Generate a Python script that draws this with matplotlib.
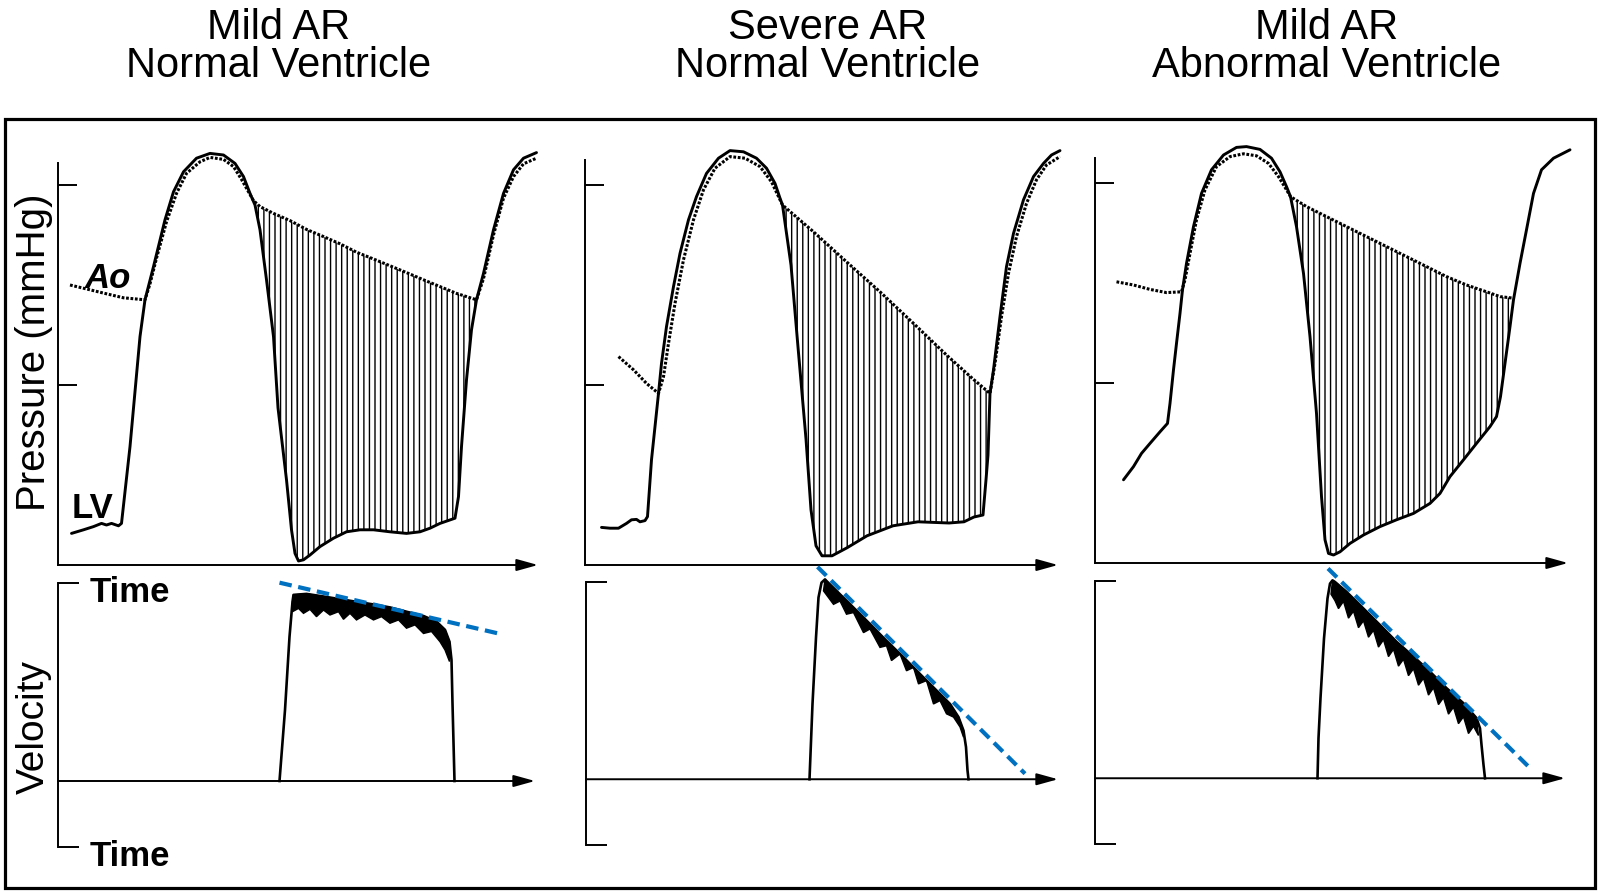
import matplotlib

matplotlib.use("Agg")

import matplotlib.pyplot as plt
from matplotlib.patches import Rectangle

plt.rcParams["font.family"] = ["Liberation Sans", "DejaVu Sans"]
plt.rcParams["hatch.linewidth"] = 1.0

W, H = 1600, 893
BLUE = "#0070C0"

# ---- titles ----
titles_top = ["Mild AR", "Severe AR", "Mild AR"]
titles_bottom = ["Normal Ventricle", "Normal Ventricle", "Abnormal Ventricle"]

# ---- pressure traces (time in ms, pressure in mmHg) ----
lv1_t = [27, 51, 71, 87, 97, 107, 121, 127, 144, 164, 174, 191, 214, 231, 251, 277,
         304, 331, 354, 371, 384, 394, 404, 417, 431, 440, 457, 467, 474, 481, 491, 504,
         524, 551, 577, 604, 631, 664, 697, 724, 744, 764, 794, 801, 807, 817, 827, 837,
         851, 871, 891, 911, 931, 957]
lv1_p = [12.9, 13.8, 14.6, 15.4, 15.0, 15.4, 14.8, 15.4, 34.6, 62.1, 71.3, 79.6, 91.3, 98.3, 103.3, 106.7,
         107.9, 107.5, 105.4, 102.1, 97.9, 95.0, 88.8, 76.3, 62.1, 44.3, 26.3, 13.8, 7.9, 6.0, 6.3, 7.5,
         9.6, 11.7, 13.3, 13.8, 13.8, 13.3, 12.9, 13.3, 14.2, 15.4, 16.7, 22.1, 34.6, 51.3, 63.8, 71.3,
         77.9, 88.8, 97.9, 103.8, 106.7, 108.1]
ao1_t = [24, 64, 97, 131, 174, 184, 197, 217, 237, 257, 284, 304, 331, 351, 367, 381,
         391, 404, 431, 464, 497, 531, 564, 597, 631, 664, 697, 731, 764, 797, 837, 851,
         871, 891, 911, 931, 957]
ao1_p = [75.0, 73.8, 72.8, 71.8, 71.3, 75.3, 81.7, 90.8, 97.9, 102.9, 105.8, 106.9, 106.4, 104.6, 101.4, 98.3,
         96.1, 94.6, 92.9, 91.1, 88.9, 87.1, 85.3, 83.2, 81.5, 79.8, 78.1, 76.3, 74.6, 72.9, 71.3, 76.6,
         87.5, 96.7, 102.1, 105.3, 106.7]

lv2_t = [33, 50, 67, 83, 93, 103, 110, 120, 125, 133, 140, 147, 153, 163, 177, 190,
         207, 223, 243, 267, 290, 317, 343, 363, 380, 390, 395, 412, 426, 442, 452, 462,
         474, 494, 524, 564, 616, 666, 728, 758, 778, 796, 802, 806, 810, 817, 830, 843,
         857, 877, 897, 917, 933, 950]
lv2_p = [14.4, 14.2, 14.2, 15.4, 16.3, 16.4, 15.8, 16.1, 17.1, 31.3, 39.6, 47.9, 55.4, 64.6, 74.6, 82.9,
         91.3, 97.1, 102.9, 106.7, 108.6, 108.3, 106.7, 104.2, 100.4, 96.7, 95.0, 80.0, 59.5, 36.5, 18.8, 9.8,
         7.3, 7.3, 9.3, 12.3, 14.8, 15.8, 15.5, 15.8, 17.0, 17.5, 26.3, 32.5, 47.9, 53.8, 67.1, 79.6,
         87.9, 96.3, 102.1, 105.4, 107.5, 108.6]
ao2_t = [67, 97, 123, 147, 157, 167, 180, 197, 217, 237, 260, 290, 320, 350, 373, 395,
         457, 523, 590, 657, 723, 777, 810, 820, 833, 847, 863, 883, 903, 923, 950]
ao2_p = [57.1, 53.8, 50.4, 47.9, 52.1, 60.4, 70.4, 81.3, 91.3, 98.8, 104.2, 107.1, 106.7, 104.6, 100.8, 95.0,
         88.3, 80.8, 73.3, 65.4, 57.5, 51.4, 47.9, 55.4, 67.1, 77.9, 87.1, 95.4, 101.3, 105.0, 107.1]

lv3_t = [57, 77, 93, 110, 130, 145, 150, 157, 163, 170, 175, 183, 197, 213, 233, 257,
         283, 303, 330, 353, 370, 383, 391, 403, 417, 430, 443, 453, 460, 467, 477, 490,
         510, 537, 570, 603, 637, 670, 690, 710, 737, 763, 790, 803, 811, 820, 830, 837,
         850, 863, 877, 893, 917, 950]
lv3_p = [25.8, 29.1, 32.4, 34.9, 37.8, 39.9, 44.9, 53.3, 59.9, 67.4, 73.3, 79.9, 89.1, 97.4, 103.3, 107.0,
         108.9, 109.1, 108.4, 106.2, 102.8, 99.1, 96.6, 89.1, 77.4, 61.6, 42.4, 21.6, 10.8, 7.4, 7.0, 7.8,
         9.9, 12.0, 14.1, 15.8, 17.4, 19.9, 22.4, 26.6, 30.8, 34.9, 39.1, 41.6, 46.6, 54.9, 64.1, 70.8,
         79.9, 88.3, 97.4, 103.3, 106.2, 108.3]
ao3_t = [43, 77, 110, 143, 173, 180, 190, 203, 220, 243, 270, 297, 323, 347, 367, 383,
         391, 423, 463, 503, 543, 583, 623, 663, 703, 743, 783, 810, 837]
ao3_p = [75.3, 74.5, 73.4, 72.6, 72.8, 75.8, 82.4, 90.8, 98.3, 104.1, 106.6, 107.3, 106.8, 104.9, 101.6, 98.3,
         96.6, 94.1, 91.6, 89.1, 86.6, 84.1, 81.6, 79.1, 76.6, 74.5, 72.8, 71.6, 71.2]

# diastolic regurgitant window (ms) for each panel
diastole = [(390, 838), (395, 811), (391, 837)]

# ---- Doppler velocity traces (time in ms, velocity in m/s) ----
v1_env_t = [443, 454, 463, 469, 471, 497, 531, 564, 597, 631, 664, 697, 731, 757, 774, 783, 787, 789, 793]
v1_env_v = [0, 2.15, 4.37, 5.43, 5.64, 5.67, 5.59, 5.51, 5.43, 5.35, 5.26, 5.13, 5.0, 4.83, 4.58, 4.22, 3.67, 2.35, 0]
v1_low_t = [469, 481, 491, 504, 517, 531, 544, 561, 571, 584, 597, 614, 631, 647, 664, 681,
            697, 714, 731, 747, 764, 774, 783]
v1_low_v = [5.13, 5.23, 5.08, 5.20, 4.98, 5.18, 5.03, 5.13, 4.90, 5.08, 4.88, 5.03, 4.88, 4.98, 4.78, 4.88,
            4.63, 4.73, 4.47, 4.53, 4.22, 3.97, 3.62]
v1_fit_t = [443, 881]
v1_fit_v = [6.01, 4.47]

v2_env_t = [447, 453, 460, 465, 471, 478, 481, 501, 535, 568, 601, 635, 668, 701, 728, 745, 755, 760, 763, 765]
v2_env_v = [0, 2.29, 4.31, 5.53, 5.98, 6.08, 6.03, 5.73, 5.22, 4.72, 4.21, 3.71, 3.20, 2.70, 2.29, 1.89, 1.48, 0.98, 0.27, 0]
v2_low_t = [475, 495, 508, 521, 535, 555, 568, 588, 601, 611, 628, 641, 655, 665, 681, 695,
            708, 721, 735, 748, 755]
v2_low_v = [5.73, 5.32, 5.42, 5.02, 5.07, 4.46, 4.57, 4.01, 4.06, 3.61, 3.81, 3.30, 3.40, 2.90, 3.00, 2.29,
            2.39, 1.99, 1.89, 1.59, 1.28]
v2_fit_t = [463, 878]
v2_fit_v = [6.46, 0.17]

v3_env_t = [445, 447, 451, 458, 465, 470, 475, 480, 503, 537, 570, 603, 637, 670, 703, 737, 763, 770, 773, 777, 780]
v3_env_v = [0, 1.22, 2.44, 4.25, 5.47, 5.92, 6.02, 5.97, 5.67, 5.16, 4.66, 4.15, 3.70, 3.24, 2.74, 2.28, 1.83, 1.52, 1.02, 0.41, 0]
v3_low_t = [472, 480, 487, 497, 507, 517, 527, 537, 547, 557, 567, 577, 587, 597, 607, 617,
            627, 637, 647, 657, 667, 677, 687, 697, 707, 717, 727, 737, 747, 757, 767]
v3_low_v = [5.60, 5.40, 5.16, 5.38, 4.87, 5.08, 4.58, 4.79, 4.29, 4.50, 3.99, 4.21, 3.70, 3.92, 3.41, 3.62,
            3.12, 3.33, 2.83, 3.04, 2.53, 2.75, 2.24, 2.45, 1.95, 2.16, 1.66, 1.87, 1.36, 1.58, 1.30]
v3_fit_t = [466, 870]
v3_fit_v = [6.38, 0.31]

# ---- layout in pixels: (left, arrow tip, top, bottom) ----
title_x = [279, 828, 1327]
p_boxes = [(58, 538, 163, 565), (585, 1058, 160, 565), (1095, 1568, 158, 563)]
v_boxes = [(58, 535, 583, 847), (586, 1058, 582, 845), (1095, 1565, 581, 844)]

ARROW = dict(arrowstyle="-|>,head_length=0.65,head_width=0.18", color="black",
             lw=1.4, mutation_scale=20, shrinkA=0, shrinkB=0)


def px_axes(fig, box):
    x0, x1, top, bot = box
    return fig.add_axes([x0 / W, 1 - bot / H, (x1 - x0) / W, (bot - top) / H])


def bare(ax, ticks, tick_len):
    for s in ("top", "right", "bottom"):
        ax.spines[s].set_visible(False)
    ax.spines["left"].set_linewidth(1.4)
    ax.set_xticks([])
    ax.set_yticks(ticks)
    ax.set_yticklabels([])
    ax.tick_params(axis="y", direction="in", length=tick_len, width=1.4)
    ax.patch.set_alpha(0)


def pressure_panel(fig, box, lv_t, lv_p, ao_t, ao_p, window):
    x0, x1, top, bot = box
    ax = px_axes(fig, box)
    ax.set_xlim(0, 2 * (x1 - x0))
    ax.set_ylim(5, 5 + (bot - top) / 4)
    bare(ax, [50, 100], 14)
    ax.annotate("", xy=(1, 0), xytext=(0, 0), xycoords="axes fraction", arrowprops=ARROW)

    a, b = window
    top_pts = [(t, p) for t, p in zip(ao_t, ao_p) if a <= t <= b]
    bot_pts = [(t, p) for t, p in zip(lv_t, lv_p) if a <= t <= b][::-1]
    poly = top_pts + bot_pts
    ax.fill([q[0] for q in poly], [q[1] for q in poly], facecolor="none",
            edgecolor="black", hatch="|||", lw=0)

    ax.plot(ao_t, ao_p, color="black", lw=2.2, ls=(0, (0.9, 0.55)), clip_on=False)
    ax.plot(lv_t, lv_p, color="black", lw=2.1, clip_on=False,
            solid_capstyle="round", solid_joinstyle="round")
    return ax


def velocity_panel(fig, box, env_t, env_v, low_t, low_v, fit_t, fit_v):
    x0, x1, top, bot = box
    ax = px_axes(fig, box)
    ax.set_xlim(0, 2 * (x1 - x0))
    ax.set_ylim(-2, 6)
    bare(ax, [-2, 6], 15)
    ax.annotate("", xy=(1, 0), xytext=(0, 0), xycoords=("axes fraction", "data"),
                textcoords=("axes fraction", "data"), arrowprops=ARROW)

    a, b = low_t[0], low_t[-1]
    band = [(t, v) for t, v in zip(env_t, env_v) if a <= t <= b]
    band += list(zip(low_t, low_v))[::-1]
    ax.fill([q[0] for q in band], [q[1] for q in band], color="black", lw=1.0, clip_on=False)
    ax.plot(env_t, env_v, color="black", lw=1.9, clip_on=False, solid_joinstyle="round")
    ax.plot(fit_t, fit_v, color=BLUE, lw=3.0, ls=(0, (3, 1.6)), clip_on=False)
    return ax


fig = plt.figure(figsize=(W / 100, H / 100), dpi=100, facecolor="white")

for x, t1, t2 in zip(title_x, titles_top, titles_bottom):
    fig.text(x / W, 1 - 39 / H, t1, ha="center", va="baseline", fontsize=30)
    fig.text(x / W, 1 - 77 / H, t2, ha="center", va="baseline", fontsize=30)

fig.add_artist(Rectangle((5 / W, 1 - 888 / H), 1590 / W, 769 / H, transform=fig.transFigure,
                         fill=False, ec="black", lw=2.3))

pressure_panel(fig, p_boxes[0], lv1_t, lv1_p, ao1_t, ao1_p, diastole[0])
pressure_panel(fig, p_boxes[1], lv2_t, lv2_p, ao2_t, ao2_p, diastole[1])
pressure_panel(fig, p_boxes[2], lv3_t, lv3_p, ao3_t, ao3_p, diastole[2])

velocity_panel(fig, v_boxes[0], v1_env_t, v1_env_v, v1_low_t, v1_low_v, v1_fit_t, v1_fit_v)
velocity_panel(fig, v_boxes[1], v2_env_t, v2_env_v, v2_low_t, v2_low_v, v2_fit_t, v2_fit_v)
velocity_panel(fig, v_boxes[2], v3_env_t, v3_env_v, v3_low_t, v3_low_v, v3_fit_t, v3_fit_v)

fig.text(34 / W, 1 - 352 / H, "Pressure (mmHg)", rotation=90, ha="center", va="center", fontsize=29)
fig.text(34 / W, 1 - 727 / H, "Velocity", rotation=90, ha="center", va="center", fontsize=28)
fig.text(90 / W, 1 - 602 / H, "Time", fontsize=25, fontweight="bold", va="baseline")
fig.text(90 / W, 1 - 866 / H, "Time", fontsize=25, fontweight="bold", va="baseline")
fig.text(85 / W, 1 - 288 / H, "Ao", fontsize=25, fontweight="bold", fontstyle="italic", va="baseline")
fig.text(72 / W, 1 - 518 / H, "LV", fontsize=25, fontweight="bold", va="baseline")

fig.savefig("out.png", dpi=100, facecolor="white")
plt.close(fig)
